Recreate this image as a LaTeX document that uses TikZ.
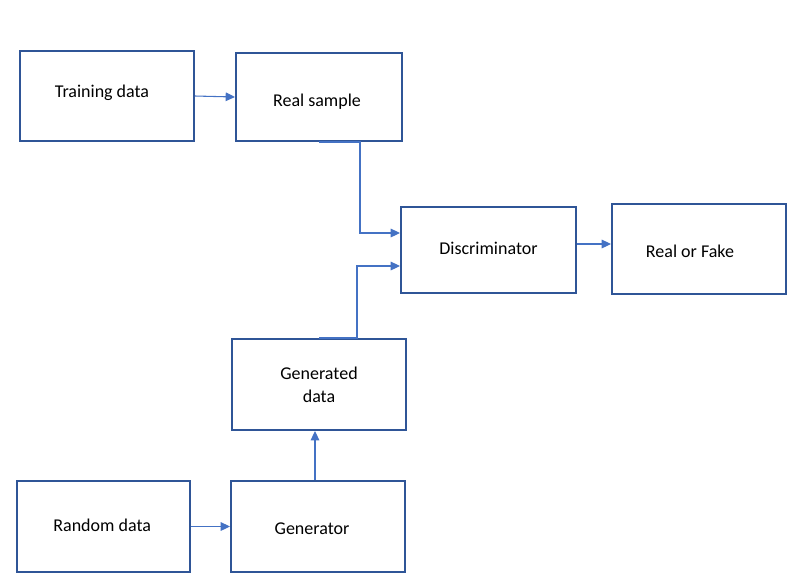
\documentclass[tikz,border=0pt]{standalone}
\usepackage{fontspec}
\setmainfont{Carlito}
\usepackage{xcolor}
\usetikzlibrary{arrows.meta, positioning}

\definecolor{boxblue}{HTML}{2F5597}
\definecolor{arrblue}{HTML}{4472C4}

\begin{document}
\begin{tikzpicture}[
  x=0.75pt, y=-0.75pt,
  % Node styles
  block/.style={draw=boxblue, line width=1.5pt, minimum width=130.5pt,
                minimum height=67.5pt, inner sep=0pt},
  txt/.style={font=\fontsize{13.5}{17.25}\selectfont, align=center, inner sep=0pt},
  % Arrow styles
  arr/.style={-{Triangle[length=7pt, width=6.5pt, fill=arrblue]}, draw=arrblue, line width=0.8pt},
]
  \useasboundingbox (0,0) rectangle (810,587);

  % ── Boxes ──
  \node[block] (train) at (107,96) {};
  \node[block, minimum width=124.5pt, minimum height=66pt] (real) at (319,97) {};
  \node[block, minimum width=131.25pt, minimum height=64.5pt] (disc) at (488.5,250) {};
  \node[block] (verdict) at (699,249) {};
  \node[block, minimum height=68.25pt] (gendata) at (319,384.5) {};
  \node[block, minimum width=129.75pt, minimum height=68.25pt] (random) at (103.5,526.5) {};
  \node[block, minimum height=68.25pt] (generator) at (318,526.5) {};

  % ── Texts ──
  \node[txt] (traintxt) at ([xshift=-3.75pt, yshift=2.25pt]train.center) {Training data};
  \node[txt] (realtxt) at ([xshift=-1.5pt, yshift=-3.75pt]real.center) {Real sample};
  \node[txt] (disctxt) at ([yshift=1.5pt]disc.center) {Discriminator};
  \node[txt] (verdicttxt) at ([xshift=-6.75pt, yshift=-1.5pt]verdict.center) {Real or Fake};
  \node[txt] (gendatatxt) at ([yshift=-0.5pt]gendata.center) {Generated\\data};
  \node[txt] (randomtxt) at ([xshift=-1pt, yshift=1pt]random.center) {Random data};
  \node[txt] (generatortxt) at ([xshift=-4.5pt, yshift=-1.5pt]generator.center) {Generator};

  % ── Arrows ──
  \draw[arr] (train.east) -- (real.west);
  \draw[arr] (real.south) -- ([xshift=30.75pt]real.south) |- ([yshift=12.75pt]disc.west);
  \draw[arr] (gendata.north) -- ([xshift=28.5pt]gendata.north) |- ([yshift=-12pt]disc.west);
  \draw[arr] ([yshift=4.5pt]disc.east) -- ([yshift=3.75pt]verdict.west);
  \draw[arr] (random.east) -- (generator.west);
  \draw[arr] ([xshift=-2.25pt]generator.north) -- ([xshift=-3pt]gendata.south);

\end{tikzpicture}
\end{document}
